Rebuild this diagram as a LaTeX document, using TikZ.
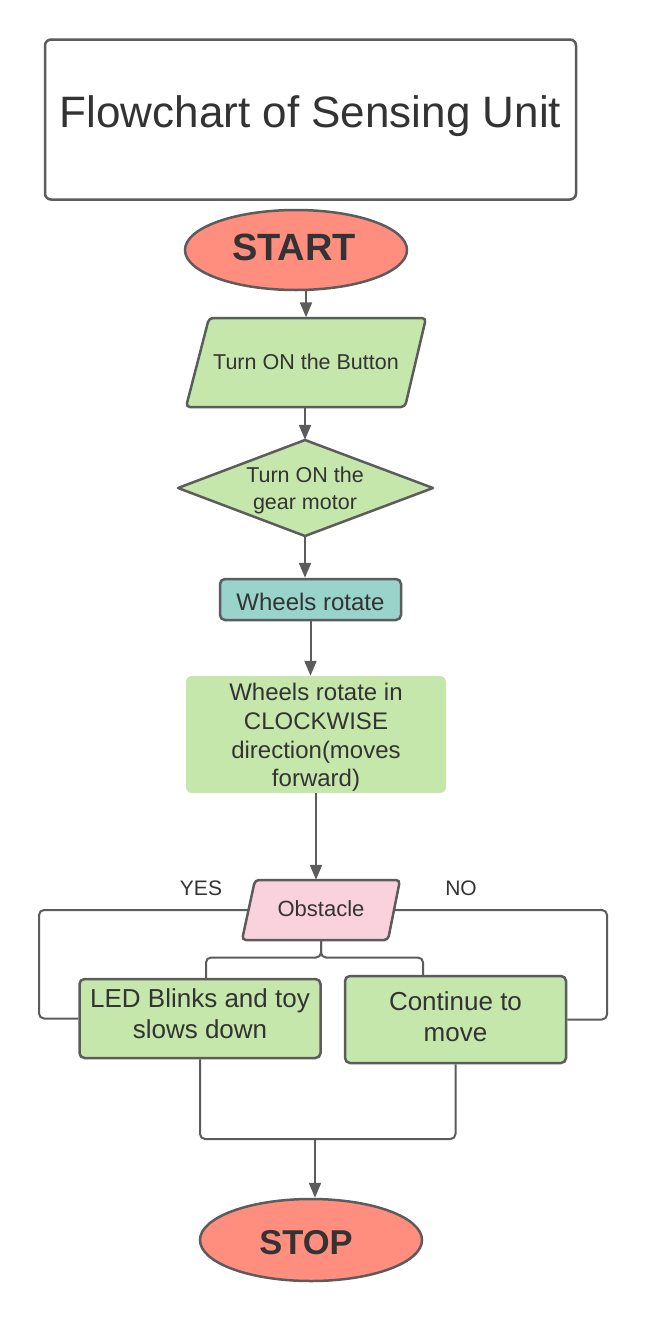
\documentclass[tikz,border=0pt]{standalone}
\usepackage{fontspec}
\setmainfont{Liberation Sans}
\usetikzlibrary{arrows.meta,shapes.geometric}
\definecolor{bord}{HTML}{5C5C5C}
\definecolor{txt}{HTML}{333333}
\definecolor{salmon}{HTML}{FF8E7F}
\definecolor{lgreen}{HTML}{C6E7AB}
\definecolor{teal}{HTML}{98D4CA}
\definecolor{pinkf}{HTML}{F9D2DE}
\tikzset{
  shapebox/.style={draw=bord, line width=2.5pt, text=txt, align=center, inner sep=0pt},
  anchorbox/.style={inner sep=0pt, text=txt, align=center},
  textonly/.style={inner sep=0pt, text=txt, align=center},
  conn/.style={draw=bord, line width=2pt, rounded corners=5pt},
  arr/.style={draw=bord, line width=2pt, -{Triangle[length=15pt,width=12pt]}},
  lbl/.style={text=txt, inner sep=0pt, font=\fontsize{21}{25}\selectfont},
}
\begin{document}
\begin{tikzpicture}[x=1pt,y=-1pt]
\useasboundingbox[fill=white] (0,0) rectangle (648,1320);

% title
\node[shapebox, rounded corners=6pt, minimum width=531pt, minimum height=160pt] (title) at (310.5,119.5) {};
\node[textonly, font=\fontsize{44}{52}\selectfont] (titletext) at ([yshift=3pt]title.center) {Flowchart of Sensing Unit};

% start
\node[shapebox, ellipse, fill=salmon, minimum width=222pt, minimum height=80pt] (start) at (296,250) {};
\node[textonly, font=\fontsize{38}{44}\bfseries] (starttext) at ([xshift=-2pt,yshift=3pt]start.center) {START};

% button parallelogram
\filldraw[draw=bord, fill=lgreen, line width=2.5pt, rounded corners=4pt]
  (209,318) -- (426,318) -- (405,407) -- (186,407) -- cycle;
\node[anchorbox, minimum width=200pt, minimum height=89pt,
      font=\fontsize{21.5}{26}\selectfont] (btn) at (306,362) {Turn ON the Button};

% gear motor diamond
\filldraw[draw=bord, fill=lgreen, line width=2.5pt, line join=round]
  (305,440) -- (433,488) -- (305,536) -- (178,488) -- cycle;
\node[anchorbox, minimum width=255pt, minimum height=96pt] (motor) at (305,488) {};
\node[textonly, font=\fontsize{21.5}{27}\selectfont] (motortext) at ([yshift=-2pt]motor.center) {Turn ON the\\gear motor};

% wheels rotate
\node[shapebox, rounded corners=5pt, fill=teal, minimum width=181pt, minimum height=41pt] (wheels) at (310.5,599.5) {};
\node[textonly, font=\fontsize{24}{28}\selectfont] (wheelstext) at ([yshift=-2.5pt]wheels.center) {Wheels rotate};

% clockwise box
\node[anchorbox, rounded corners=6pt, fill=lgreen, minimum width=260pt, minimum height=117pt] (cw) at (316,734.5) {};
\node[textonly, font=\fontsize{24}{28.7}\selectfont] (cwtext) at ([yshift=-3pt]cw.center)
      {Wheels rotate in\\CLOCKWISE\\direction(moves\\forward)};

% obstacle parallelogram
\filldraw[draw=bord, fill=pinkf, line width=2.5pt, rounded corners=4pt]
  (255,880) -- (400,880) -- (388,940) -- (242,940) -- cycle;
\node[anchorbox, minimum width=146pt, minimum height=60pt,
      font=\fontsize{22}{26}\selectfont] (obs) at (321,910) {};
\node[textonly, font=\fontsize{22}{26}\selectfont] (obstext) at ([yshift=1pt]obs.center) {Obstacle};

\node[lbl] (yes) at (201,888) {YES};
\node[lbl] (no) at (461,888) {NO};

% LED box
\node[shapebox, rounded corners=5pt, fill=lgreen, minimum width=241pt, minimum height=79pt] (led) at (200,1018.5) {};
\node[textonly, font=\fontsize{26}{31}\selectfont] (ledtext) at ([yshift=5pt]led.center) {LED Blinks and toy\\slows down};

% continue box
\node[shapebox, rounded corners=5pt, fill=lgreen, minimum width=221pt, minimum height=87pt] (cont) at (455.5,1019.5) {};
\node[textonly, font=\fontsize{26}{31}\selectfont] (conttext) at ([yshift=3pt]cont.center) {Continue to\\move};

% stop
\node[shapebox, ellipse, fill=salmon, minimum width=222pt, minimum height=82pt] (stop) at (311,1240) {};
\node[textonly, font=\fontsize{34.5}{40}\bfseries] (stoptext) at ([xshift=-5pt,yshift=-3pt]stop.center) {STOP};

% connector coordinates
\coordinate (yl) at (39,910);
\coordinate (nr) at (607,910);
\coordinate (br) at (321,957.5);
\coordinate (ledtop) at (206,979);
\coordinate (conttop) at (423,976);
\coordinate (m) at (315,1139);

% arrows
\draw[arr] (start.south -| btn.north) -- (btn.north);
\draw[arr] (btn.south -| motor.north) -- (motor.north);
\draw[arr] (motor.south) -- (motor.south |- wheels.north);
\draw[arr] (wheels.south) -- (wheels.south |- cw.north);
\draw[arr] (cw.south) -- (cw.south |- obs.north);

% loops
\draw[conn] (obs.west) -- (yl) |- (led.west);
\draw[conn] (obs.east) -- (nr) |- (cont.east);
\draw[conn] (obs.south) -- (br) -| (ledtop);
\draw[conn] (obs.south) -- (br) -| (conttop);
\draw[conn] (led.south) |- (m) -| (cont.south);
\draw[arr] (m) -- (m |- stop.north);
\end{tikzpicture}
\end{document}
